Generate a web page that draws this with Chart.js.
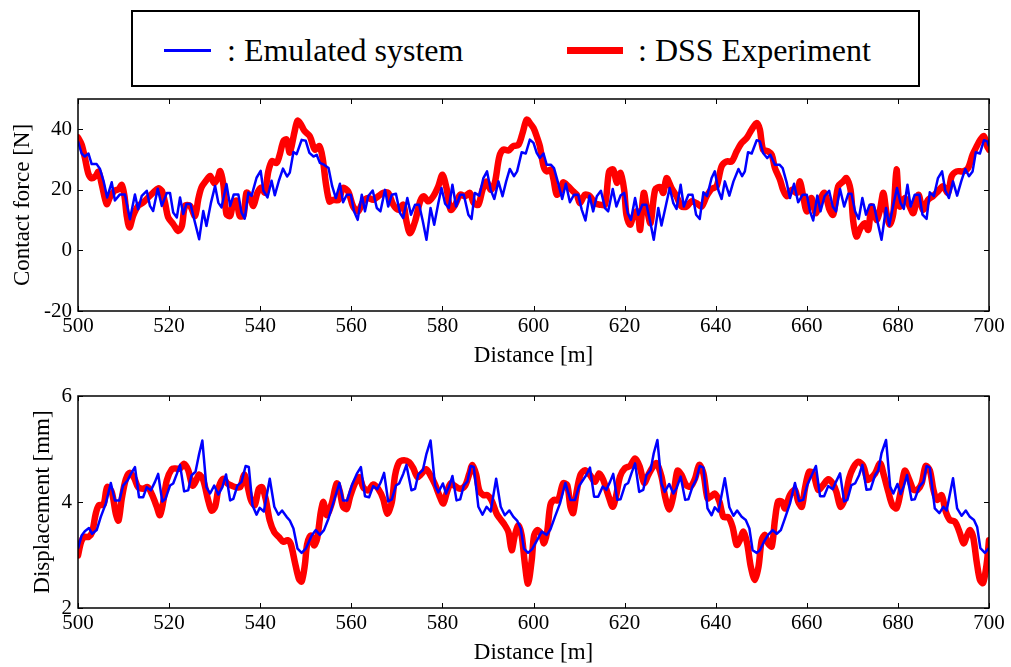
<!DOCTYPE html>
<html>
<head>
<meta charset="utf-8">
<script src="https://cdn.jsdelivr.net/npm/chart.js@4/dist/chart.umd.min.js"></script>
<style>
  body { margin: 0; background: #fff; width: 1011px; height: 667px; position: relative; overflow: hidden; font-family: "Liberation Serif", serif; }
  #legend { position: absolute; left: 131px; top: 10px; width: 789px; height: 77px; box-sizing: border-box; border: 2px solid #000; }
  .swatch { position: absolute; }
  .ltext { position: absolute; font-size: 32px; line-height: 36px; white-space: nowrap; color: #000; }
  .plot { position: absolute; left: 0; width: 1011px; }
</style>
</head>
<body>
<div id="legend">
  <div class="swatch" style="left:31px; top:37px; width:47px; height:3px; background:#0000ff;"></div>
  <div class="ltext" style="left:94px; top:20px;">: Emulated system</div>
  <div class="swatch" style="left:434px; top:35px; width:56px; height:7px; background:#ff0000;"></div>
  <div class="ltext" style="left:505px; top:20px;">: DSS Experiment</div>
</div>
<div class="plot" style="top:90px; height:280px;"><canvas id="forceChart"></canvas></div>
<div class="plot" style="top:386px; height:281px;"><canvas id="dispChart"></canvas></div>
<script>
// tick labels
const distanceTicks = [500, 520, 540, 560, 580, 600, 620, 640, 660, 680, 700];
const forceTicks = [-20, 0, 20, 40];
const dispTicks = [2, 4, 6];

// contact force [N] vs distance [m]
const forceEmulated = [
  [500,36],[500.8,32],[501.5,31],[502.3,32],[503,28.5],[504.1,28.5],[504.8,27],[505.6,23],[506.4,17.5],[507.4,22.5],
  [508.1,16.5],[509.2,18.5],[510.3,18.5],[511.4,10.3],[512.5,18.5],[513.2,13.6],[514,18],[515.1,19.7],[515.8,14.7],[516.5,13],
  [517.5,20.4],[518.4,14.7],[519.5,19],[520.2,19],[520.9,12.5],[521.7,10.9],[522.4,17.5],[523.1,12],[523.8,15.3],[524.7,15.3],
  [525.5,10.3],[526.6,3.7],[527.5,13],[528.2,8.1],[529.2,15.8],[530.1,21.3],[530.8,15.8],[531.5,14.2],[532.6,21.9],[533.4,14.7],
  [534.2,18.5],[535.2,18.5],[535.9,12.5],[536.6,10.5],[537.4,19.1],[538.1,18],[539.2,24],[540.1,26.3],[540.7,19.7],[541.6,17.5],
  [542.5,23],[543.2,18.2],[544.1,23],[545,27],[545.9,24.4],[546.5,25.7],[547.3,32.5],[548,31.8],[549.1,36.5],[550,36.2],
  [550.8,32.2],[551.7,31],[552.4,31.6],[553.1,28.9],[554,28.3],[555,27.2],[555.8,21.2],[556.6,17.3],[557.5,22],[558.2,15.9],
  [559,18.4],[559.9,18.4],[560.6,12.9],[561.4,10.1],[562.3,18.4],[563,12.9],[563.7,17.9],[564.7,19.8],[565.6,14],[566.4,12.9],
  [567.4,20],[568.1,14.5],[568.9,18.4],[569.8,18.7],[570.7,12.3],[571.4,10.7],[572.3,17.3],[573.1,11.8],[574,15.1],[574.9,15.1],
  [575.7,9.6],[576.5,3.5],[577.4,14],[578.2,8.5],[579.1,15.6],[579.8,20.6],[580.6,15.4],[581.4,14],[582.2,21.7],[583,14.5],
  [583.9,18.4],[584.7,18.4],[585.7,11.8],[586.4,10.4],[587.1,19],[588.1,18.1],[589,23.9],[589.8,26.1],[590.6,20],[591.4,17],
  [592.3,22.8],[593.2,17.9],[594,22.8],[594.8,26.9],[595.7,24.5],[596.4,26.1],[597.4,32.4],[598.3,32],[599.2,36.6],[600,35.5],
  [600.7,32.2],[601.4,30.5],[602.2,32],[602.9,28.3],[603.8,28.3],[604.5,27.2],[605.4,22.3],[606.3,17],[607.1,22],[608,15.9],
  [608.9,18.4],[609.8,18.4],[610.6,13.4],[611.4,9.9],[612.3,18.1],[613.1,12.9],[613.9,17.9],[614.8,19.7],[615.7,14],[616.4,12.9],
  [617.4,20.3],[618.2,14.5],[619.1,18.1],[619.9,19],[620.7,12.3],[621.4,10.1],[622.3,17.3],[623,11.8],[623.9,15.1],[624.8,15.1],
  [625.6,9.6],[626.4,3.5],[627.4,14],[628.1,8.2],[629.1,15.1],[629.9,20.6],[630.7,15.6],[631.4,13.7],[632.3,21.7],[633,14.5],
  [634,18.4],[634.9,18.4],[635.7,11.8],[636.5,10.4],[637.3,19.2],[638.1,17.9],[639.1,23.9],[639.8,26.1],[640.6,19.8],[641.3,17],
  [642,22.8],[643,18.1],[643.9,22.8],[645,26.9],[645.8,24.5],[646.4,26.1],[647.1,32.4],[647.9,32],[649,36.4],[649.7,36],
  [650.4,32.2],[651.3,30.5],[652,31.6],[653,28.3],[654,28.3],[654.7,27.2],[655.6,22.3],[656.3,17.3],[657.2,22],[658.1,15.9],
  [659.1,18.4],[660,18.4],[660.7,12.9],[661.4,9.9],[662.3,18.1],[663,12.9],[663.9,17.9],[664.9,19.7],[665.7,14.5],[666.4,12.9],
  [667.3,20.3],[668.2,14.5],[669.1,18.7],[669.8,18.7],[670.6,12.9],[671.4,10.4],[672.2,17.3],[673,11.8],[673.8,15.1],[674.7,15.1],
  [675.5,9.6],[676.4,3.5],[677.4,14],[678.1,8.2],[679,15.1],[679.8,20.6],[680.6,15.6],[681.3,13.7],[682.1,21.7],[682.8,14.5],
  [683.7,18.4],[684.7,18.4],[685.4,11.8],[686.3,10.4],[687,19.2],[687.9,17.9],[688.8,23.9],[689.7,26.1],[690.4,19.8],[691.2,17.3],
  [692.1,22.8],[693,18.1],[693.9,22.8],[694.8,26.9],[695.6,24.5],[696.4,26.1],[697.1,32.4],[698,32],[698.9,36.4],[699.6,36],[700,34.4]
];
const forceDSS = [
  [500,37.3],[500.8,35],[501.5,30.7],[502.3,25.2],[503,23.8],[503.9,24.6],[504.5,26],[505.2,21.9],[506.3,15.3],[507,17.5],
  [508,19.7],[508.9,20.2],[509.6,21.6],[510.2,18],[510.7,11.4],[511.3,7.6],[512.1,11.4],[513.2,14.7],[514.3,15.8],[515.4,17.5],
  [516.5,19.1],[517.6,20.5],[518.4,19.7],[519.1,15.8],[519.8,10.9],[520.9,8.7],[522,6.4],[522.8,8.1],[523.5,14.7],[524.6,14.7],
  [525.7,11.4],[526.4,16.9],[527.1,20.8],[528.1,23],[529,24.6],[529.9,22.2],[530.7,24],[531.2,26.2],[531.9,21.9],[532.6,11.9],
  [533.4,11.4],[534.1,15.8],[534.8,16.4],[535.5,11.4],[536.3,11.4],[537,19.1],[537.7,18],[538.5,14.7],[539.4,19.1],[540.3,20.8],
  [541,19.1],[541.8,26.2],[542.6,29.5],[543.6,28.9],[544.3,31.7],[545.1,36.1],[545.8,36.6],[546.5,32.3],[547.5,38.9],[548.2,42.8],
  [548.9,41.7],[549.7,39.5],[550.9,37.7],[552,33.3],[553,34.4],[553.7,30.5],[554.4,22.3],[555.2,16.2],[556,16.7],[557.2,16.7],
  [558.2,20.6],[559.3,19.5],[560.4,14.5],[561.5,12.9],[562.6,16.2],[563.7,17.3],[564.8,16.7],[565.9,17.9],[567,19],[568.1,19],
  [569.2,15.1],[570.3,13.4],[571.4,15.1],[572.1,9.6],[572.9,5.7],[574,9.6],[575.1,16.2],[575.9,17.9],[576.9,16.2],[578,17.9],
  [579.1,21.2],[580,25],[580.9,20.6],[581.8,13.4],[582.8,15.1],[583.9,18.4],[585,17.9],[586,19],[586.9,15.6],[587.9,15.1],
  [588.8,20],[589.7,22.8],[590.6,20],[591.5,22.3],[592.5,31],[593.4,33.3],[594.5,33],[595.5,34.4],[596.7,34.9],[597.6,38.8],
  [598.5,43.2],[599.2,42.1],[600,40.4],[600.7,37.7],[601.4,34.4],[602.2,27.8],[602.9,26.1],[603.8,26.7],[604.4,23.4],[605.1,18.4],
  [606,20],[606.5,22.5],[607.6,21.2],[608.7,19.5],[609.5,18.4],[610.2,15.6],[611.3,18.4],[612.4,17.9],[613.5,15.6],[614.6,15.1],
  [615.7,15.1],[616.6,26.1],[617.5,26.7],[618.3,22.3],[619.1,25.6],[619.9,20],[620.4,11.8],[621.2,8.5],[621.9,11.2],[622.8,12.9],
  [623.4,6.8],[624.2,19],[625,12.9],[625.7,9],[626.7,20],[627.8,20.9],[628.5,19],[629.2,23.9],[630.3,20.6],[631.4,17.9],
  [632.5,14.5],[633.6,14.5],[634.7,16.2],[635.8,15.6],[636.9,14.5],[638,17.9],[639.1,20.3],[640.2,21.2],[641.3,27.8],[642.4,29.4],
  [643.5,29.4],[644.6,32.7],[645.7,35.5],[646.8,37.1],[647.9,39.9],[649,42.1],[649.7,39.9],[650.4,33.3],[651.5,32.7],[652.3,31.6],
  [653,27.2],[654.1,23.4],[654.8,20],[655.6,17.9],[656.7,20],[657.8,19],[658.5,22.8],[659.2,17.9],[660,12.9],[661,17.3],
  [662,12.3],[662.9,16.7],[663.9,19],[665,13.4],[665.8,11.8],[666.9,21.2],[668,22.8],[668.7,23.9],[669.6,20],[670.2,9.6],
  [670.9,4.6],[671.8,7.4],[672.7,9],[673.5,6.8],[674.2,14.5],[675.3,10.1],[676,12.9],[676.8,19],[677.5,12.3],[678.2,8.5],
  [679,12.3],[679.7,26.7],[680.4,14.5],[681.5,17.3],[682.6,14.5],[683.4,12.3],[684.5,18.4],[685.5,13.4],[686.6,16.7],[687.7,17.9],
  [688.8,19.5],[689.9,21.2],[691,19],[691.8,24.5],[692.9,26.1],[694.3,26.1],[695.4,27.2],[696.4,31.6],[697.3,34.4],[698.1,36.6],
  [698.9,37.7],[699.6,34.4],[700,33.3]
];

// displacement [mm] vs distance [m]
const dispEmulated = [
  [500,3.12],[500.8,3.37],[501.5,3.45],[502.4,3.51],[503.1,3.40],[504.1,3.47],[505,3.72],[506.1,3.97],[507.2,4.36],[508.1,4.03],
  [509.1,4.03],[509.9,4.31],[510.9,4.41],[511.6,4.53],[512.5,4.66],[513.4,4.09],[514.3,4.09],[515.1,4.28],[516,4.22],[516.9,4.38],
  [517.6,4.53],[518.5,4.01],[519.2,4.06],[520.2,4.31],[520.9,4.35],[521.7,4.53],[522.4,4.70],[523.3,4.20],[524.2,4.22],[524.9,4.50],
  [525.8,4.57],[526.6,4.91],[527.3,5.16],[528.2,4.28],[529,4.16],[529.9,4.31],[530.8,4.14],[531.7,4.28],[532.5,4.52],[533.4,4.03],
  [534.1,4.06],[535,4.31],[535.9,4.38],[536.8,4.68],[537.5,4.66],[538.3,3.94],[539.2,3.76],[539.9,3.89],[540.8,3.82],[542.1,4.44],
  [543.1,3.91],[544,3.76],[544.8,3.84],[545.8,3.72],[546.5,3.65],[547.3,3.50],[548.2,3.12],[549.1,3.04],[550,3.12],[551.3,3.37],
  [552.2,3.47],[553.1,3.38],[554,3.47],[555,3.69],[556.1,4.00],[557.4,4.36],[558.2,4.03],[559.1,4.03],[560.1,4.31],[561.2,4.53],
  [562.1,4.66],[563,4.11],[563.9,4.09],[564.8,4.30],[565.7,4.24],[566.5,4.38],[567.2,4.55],[568.1,4.01],[568.9,4.05],[569.8,4.31],
  [570.5,4.35],[571.4,4.53],[572.1,4.70],[573.2,4.22],[574,4.25],[574.7,4.52],[575.7,4.60],[576.5,4.91],[577.4,5.16],[578.4,4.31],
  [579.1,4.18],[580.1,4.35],[580.8,4.16],[581.5,4.30],[582.2,4.49],[583.1,4.03],[583.9,4.05],[584.7,4.31],[585.5,4.39],[586.2,4.68],
  [586.9,4.66],[587.9,3.91],[588.8,3.76],[589.7,3.91],[590.6,3.82],[591.8,4.44],[592.8,3.91],[593.7,3.75],[594.7,3.84],[595.6,3.72],
  [596.4,3.65],[597.2,3.50],[597.9,3.12],[598.8,3.04],[599.7,3.11],[600.8,3.28],[601.8,3.44],[602.9,3.38],[603.7,3.48],[604.7,3.72],
  [605.8,3.97],[607,4.36],[608.1,4.04],[609.1,4.04],[610,4.30],[610.9,4.42],[611.6,4.51],[612.4,4.65],[613.3,4.10],[614.2,4.10],
  [615.2,4.29],[616,4.23],[616.8,4.38],[617.5,4.53],[618.4,4.04],[619.1,4.05],[620.1,4.32],[620.8,4.36],[621.5,4.54],[622.3,4.73],
  [623.2,4.19],[624.1,4.23],[624.8,4.51],[625.7,4.60],[626.4,4.92],[627.2,5.17],[628.1,4.35],[628.8,4.19],[629.8,4.34],[630.7,4.16],
  [631.4,4.26],[632.3,4.48],[633.3,4.04],[634,4.05],[634.9,4.29],[635.7,4.42],[636.5,4.68],[637.3,4.65],[638.2,3.88],[639.1,3.75],
  [639.8,3.90],[640.6,3.82],[642,4.45],[643,3.90],[643.9,3.74],[644.7,3.84],[645.7,3.72],[646.6,3.66],[647.4,3.50],[648.1,3.09],
  [649,3.04],[649.7,3.09],[650.6,3.25],[651.5,3.38],[652.5,3.47],[653.4,3.40],[654.3,3.47],[655.2,3.69],[656.3,3.97],[657.4,4.36],
  [658.3,4.02],[659.2,4.04],[660.1,4.32],[661.1,4.51],[662,4.68],[662.9,4.11],[663.8,4.11],[664.7,4.30],[665.7,4.24],[666.4,4.38],
  [667.3,4.54],[668.2,4.01],[668.9,4.04],[669.8,4.32],[670.6,4.35],[671.5,4.51],[672.2,4.70],[673.1,4.23],[674,4.24],[675,4.51],
  [675.7,4.60],[676.4,4.92],[677.4,5.17],[678.3,4.29],[679,4.16],[679.9,4.34],[680.6,4.15],[681.3,4.30],[682,4.51],[683,4.04],
  [683.7,4.05],[684.7,4.29],[685.6,4.38],[686.3,4.68],[687,4.65],[688.1,3.88],[689.1,3.79],[690,3.91],[690.7,3.84],[692.1,4.45],
  [693,3.88],[694,3.74],[694.9,3.84],[695.8,3.72],[696.7,3.66],[697.4,3.53],[698.1,3.13],[699.1,3.04],[700,3.13]
];
const dispDSS = [
  [500,2.99],[500.7,3.25],[501.4,3.34],[502.3,3.34],[503.1,3.43],[503.9,3.78],[504.6,3.94],[505.6,3.95],[506.4,4.28],[507.4,4.19],
  [508.3,3.78],[508.9,3.65],[509.6,4.06],[510.5,4.43],[511.4,4.55],[512.4,4.44],[513.2,4.28],[514.3,4.25],[515.3,4.28],[516.3,4.13],
  [517.3,3.91],[518,3.75],[518.7,4.00],[519.5,4.41],[520.6,4.62],[521.4,4.63],[522.4,4.63],[523.3,4.72],[524.2,4.60],[525.1,4.31],
  [525.8,4.38],[526.6,4.52],[527.5,4.41],[528.5,4.06],[529.3,3.84],[530.1,3.91],[530.9,4.28],[531.9,4.44],[532.8,4.35],[533.7,4.31],
  [534.6,4.28],[535.6,4.28],[536.5,4.52],[537.2,4.31],[538,4.03],[538.8,3.94],[539.7,4.25],[540.4,4.28],[541.2,4.06],[542.1,3.65],
  [543.1,3.43],[544.1,3.34],[545.1,3.25],[546,3.28],[546.7,3.21],[547.6,2.87],[548.5,2.55],[549.1,2.50],[549.8,2.81],[550.3,3.20],
  [551.1,3.37],[551.8,3.18],[552.5,3.31],[553.3,3.81],[553.9,4.00],[554.6,3.75],[555.7,3.97],[556.8,4.35],[557.5,4.19],[558.2,3.91],
  [559,3.87],[559.7,4.09],[560.8,4.35],[561.8,4.47],[562.6,4.28],[563.7,4.22],[564.8,4.33],[565.9,4.25],[567,4.06],[567.9,3.78],
  [568.9,4.00],[569.6,4.50],[570.5,4.75],[571.6,4.79],[572.7,4.75],[573.6,4.64],[574.5,4.47],[575.4,4.53],[576.4,4.62],[577.4,4.50],
  [578.4,4.33],[579.3,4.13],[580.2,3.97],[580.9,4.16],[581.8,4.35],[582.8,4.30],[583.9,4.25],[585,4.31],[585.9,4.53],[586.6,4.70],
  [587.4,4.52],[588.1,4.22],[589,4.13],[589.9,4.13],[590.8,4.03],[591.9,3.78],[592.6,3.69],[593.5,3.59],[594.5,3.43],[595.2,3.09],
  [595.9,3.37],[596.7,3.56],[597.4,3.37],[598.1,2.84],[598.8,2.46],[599.6,2.90],[600.1,3.35],[600.8,3.47],[601.6,3.41],[602.3,3.22],
  [603,3.44],[603.7,3.94],[604.5,4.04],[605.4,4.03],[606.5,4.35],[607.4,4.32],[608.1,3.91],[608.7,3.79],[609.4,4.16],[610.3,4.51],
  [611.3,4.60],[612.4,4.51],[613.5,4.38],[614.4,4.54],[615.3,4.42],[616.4,4.13],[617.4,3.91],[618.1,4.10],[619,4.48],[620.1,4.64],
  [621.2,4.68],[622.3,4.82],[623.3,4.67],[624.3,4.36],[625.2,4.51],[626.1,4.65],[627,4.73],[628.1,4.48],[628.9,4.10],[629.8,3.86],
  [630.7,4.12],[631.6,4.59],[632.5,4.51],[633.5,4.32],[634.5,4.29],[635.5,4.45],[636.4,4.70],[637.3,4.54],[638.2,4.07],[638.9,4.10],
  [639.8,4.16],[640.8,4.01],[641.7,3.72],[642.8,3.71],[643.7,3.53],[644.6,3.19],[645.3,3.28],[646.1,3.44],[646.9,3.22],[647.7,2.78],
  [648.6,2.53],[649.4,2.78],[650.1,3.28],[650.8,3.38],[651.5,3.22],[652.3,3.16],[653,3.66],[653.7,4.01],[654.5,4.01],[655.2,3.88],
  [656.3,4.13],[657.4,4.23],[658.1,4.01],[658.9,3.91],[659.6,4.26],[660.5,4.57],[661.4,4.54],[662.5,4.23],[663.6,4.32],[664.7,4.43],
  [665.7,4.35],[666.5,4.19],[667.4,3.91],[668.4,4.07],[669.3,4.45],[670.2,4.65],[671.3,4.76],[672.4,4.68],[673.3,4.42],[674,4.45],
  [675,4.54],[676.1,4.73],[676.9,4.51],[677.9,4.19],[678.8,3.94],[679.7,3.88],[680.6,4.19],[681.5,4.59],[682.5,4.42],[683.4,4.23],
  [684.3,4.23],[685.2,4.35],[686.1,4.68],[687,4.60],[687.8,4.23],[688.6,4.04],[689.6,4.13],[690.5,3.82],[691.4,3.66],[692.5,3.63],
  [693.5,3.44],[694.4,3.22],[695.1,3.35],[695.8,3.47],[696.5,3.35],[697.3,2.87],[698,2.53],[698.7,2.47],[699.5,2.84],[700,3.28]
];

Chart.defaults.font.family = '"Liberation Serif", "Times New Roman", serif';
Chart.defaults.color = '#000';

// matlab style box with inward tick marks on all four sides
const boxTicks = {
  id: 'boxTicks',
  afterDraw(chart) {
    const { ctx, chartArea: a, scales: { x, y } } = chart;
    ctx.save();
    ctx.strokeStyle = '#000';
    ctx.lineWidth = 1.5;
    ctx.strokeRect(a.left, a.top, a.right - a.left, a.bottom - a.top);
    ctx.lineWidth = 1;
    ctx.beginPath();
    x.ticks.forEach(t => {
      const px = Math.round(x.getPixelForValue(t.value)) + 0.5;
      ctx.moveTo(px, a.bottom); ctx.lineTo(px, a.bottom - 5);
      ctx.moveTo(px, a.top); ctx.lineTo(px, a.top + 5);
    });
    y.ticks.forEach(t => {
      const py = Math.round(y.getPixelForValue(t.value)) + 0.5;
      ctx.moveTo(a.left, py); ctx.lineTo(a.left + 5, py);
      ctx.moveTo(a.right, py); ctx.lineTo(a.right - 5, py);
    });
    ctx.stroke();
    ctx.restore();
  }
};

function toXY(pairs) {
  return pairs.map(p => ({ x: p[0], y: p[1] }));
}

function makePlot(id, emu, dss, yMin, yMax, yTicks, yTitle, yTitlePad, padTop) {
  new Chart(document.getElementById(id), {
    type: 'line',
    data: {
      datasets: [
        { label: 'Emulated system', data: toXY(emu), borderColor: '#0000ff', borderWidth: 2.5,
          pointRadius: 0, tension: 0, clip: 0, borderJoinStyle: 'round' },
        { label: 'DSS Experiment', data: toXY(dss), borderColor: '#ff0000', borderWidth: 6.5,
          pointRadius: 0, tension: 0.3, clip: 0, borderJoinStyle: 'round', borderCapStyle: 'round' }
      ]
    },
    options: {
      responsive: true,
      maintainAspectRatio: false,
      animation: false,
      events: [],
      layout: { padding: { top: padTop, right: 22, bottom: 0, left: 0 } },
      plugins: { legend: { display: false }, tooltip: { enabled: false } },
      scales: {
        x: {
          type: 'linear', min: 500, max: 700,
          afterBuildTicks: s => { s.ticks = distanceTicks.map(v => ({ value: v })); },
          afterFit: s => { s.height = 59; },
          grid: { display: false, drawTicks: false },
          border: { display: false },
          ticks: { font: { size: 21 }, padding: 3, maxRotation: 0, autoSkip: false },
          title: { display: true, text: 'Distance [m]', font: { size: 23 }, padding: 0 }
        },
        y: {
          type: 'linear', min: yMin, max: yMax,
          afterBuildTicks: s => { s.ticks = yTicks.map(v => ({ value: v })); },
          afterFit: s => { s.width = 78; s.paddingTop = 0; s.paddingBottom = 0; },
          grid: { display: false, drawTicks: false },
          border: { display: false },
          ticks: { font: { size: 21 }, padding: 6 },
          title: { display: true, text: yTitle, font: { size: 23 }, padding: { top: yTitlePad, bottom: 0 } }
        }
      }
    },
    plugins: [boxTicks]
  });
}

makePlot('forceChart', forceEmulated, forceDSS, -20, 50, forceTicks, 'Contact force [N]', 9, 9);
makePlot('dispChart', dispEmulated, dispDSS, 2, 6, dispTicks, 'Displacement [mm]', 29, 10);
</script>
</body>
</html>
